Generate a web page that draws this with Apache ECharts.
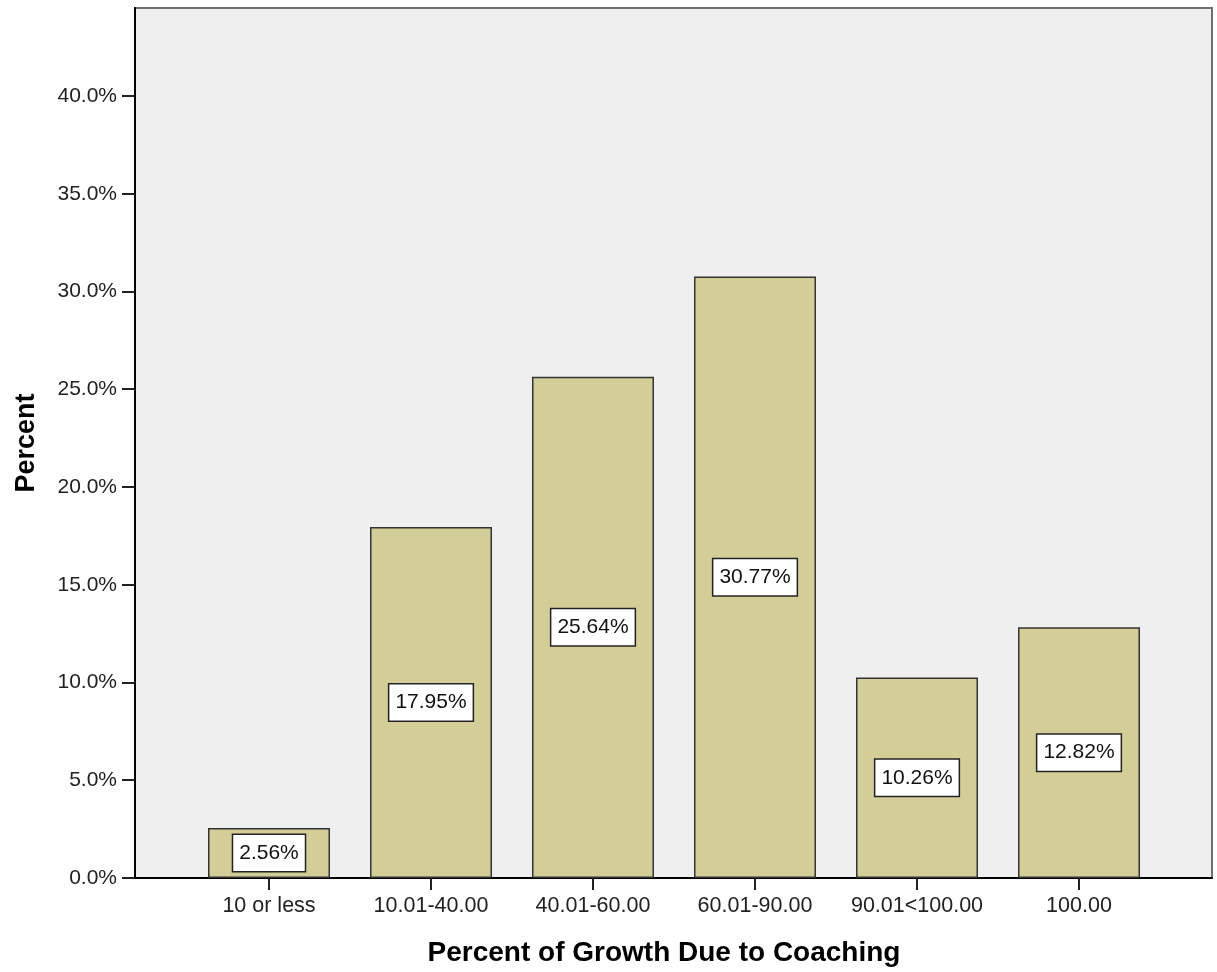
<!DOCTYPE html>
<html>
<head>
<meta charset="utf-8">
<title>Percent of Growth Due to Coaching</title>
<script src="https://cdn.jsdelivr.net/npm/echarts@6/dist/echarts.min.js"></script>
<style>
  html, body { margin: 0; padding: 0; background: #fff; }
  #chart { width: 1217px; height: 972px; }
</style>
</head>
<body>
<div id="chart"></div>
<script>
// Growth categories and the share of respondents in each
const categories = ['10 or less', '10.01-40.00', '40.01-60.00', '60.01-90.00', '90.01<100.00', '100.00'];
const percents = [2.56, 17.95, 25.64, 30.77, 10.26, 12.82];
const yTicks = [0, 5, 10, 15, 20, 25, 30, 35, 40];

const FONT = '"Liberation Sans", Arial, sans-serif';
const Y_MAX = 44.5;

const chart = echarts.init(document.getElementById('chart'), null, { renderer: 'canvas' });

chart.setOption({
  animation: false,
  backgroundColor: '#ffffff',
  textStyle: { fontFamily: FONT },
  grid: [
    // outer frame: shaded plot area with the y scale
    { left: 135, top: 8, width: 1077, height: 870, show: true, outerBoundsMode: 'none',
      backgroundColor: '#efefef', borderColor: '#6f6f6f', borderWidth: 2 },
    // inner band where the category bars sit
    { left: 188, top: 8, width: 972, height: 870, outerBoundsMode: 'none' }
  ],
  xAxis: [
    { gridIndex: 0, type: 'value', min: 0, max: 1,
      axisLine: { show: true, onZero: false, lineStyle: { color: '#000', width: 2 } },
      axisTick: { show: false }, axisLabel: { show: false }, splitLine: { show: false } },
    { gridIndex: 1, type: 'category', data: categories,
      axisLine: { show: false },
      axisTick: { show: true, interval: 0, alignWithLabel: true, length: 12,
        lineStyle: { color: '#222', width: 2 } },
      axisLabel: { interval: 0, fontSize: 21.5, color: '#222', margin: 17, fontFamily: FONT },
      name: 'Percent of Growth Due to Coaching',
      nameLocation: 'middle', nameGap: 61,
      nameTextStyle: { fontSize: 28, fontWeight: 'bold', color: '#000', fontFamily: FONT,
        padding: [0, 20, 0, 0] } }
  ],
  yAxis: [
    { gridIndex: 0, type: 'value', min: 0, max: Y_MAX,
      axisLine: { show: true, lineStyle: { color: '#000', width: 2 } },
      axisTick: { show: true, length: 13, customValues: yTicks, lineStyle: { color: '#222', width: 2 } },
      axisLabel: { customValues: yTicks, fontSize: 21, color: '#222', margin: 18, fontFamily: FONT,
        formatter: v => v.toFixed(1) + '%' },
      splitLine: { show: false },
      name: 'Percent', nameLocation: 'middle', nameGap: 95, nameRotate: 90,
      nameTextStyle: { fontSize: 27, fontWeight: 'bold', color: '#000', fontFamily: FONT } },
    { gridIndex: 1, type: 'value', min: 0, max: Y_MAX, show: false }
  ],
  series: [{
    type: 'bar',
    xAxisIndex: 1, yAxisIndex: 1,
    data: percents,
    barWidth: 122,
    itemStyle: { color: '#d3ce98', borderColor: '#333', borderWidth: 1.5 },
    label: {
      show: true, position: 'inside',
      formatter: p => p.value.toFixed(2) + '%',
      fontSize: 21, color: '#111', fontFamily: FONT,
      backgroundColor: '#ffffff', borderColor: '#222', borderWidth: 1.5,
      padding: [8, 6, 7, 6]
    }
  }]
});
</script>
</body>
</html>
